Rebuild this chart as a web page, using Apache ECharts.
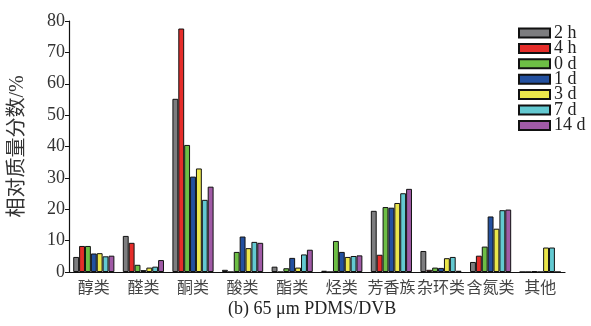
<!DOCTYPE html>
<html><head><meta charset="utf-8">
<script src="https://cdn.jsdelivr.net/npm/echarts@6/dist/echarts.min.js"></script>
<style>html,body{margin:0;padding:0;background:#fff}#c{width:591px;height:326px}</style>
</head><body><div id="c"></div>
<script>
const categories = ['醇类','醛类','酮类','酸类','酯类','烃类','芳香族','杂环类','含氮类','其他'];
const seriesNames = ['2 h','4 h','0 d','1 d','3 d','7 d','14 d'];
const s2h  = [4.8, 11.5, 55.2, 0.7, 1.7, 0.4, 19.5, 6.7, 3.2, 0];
const s4h  = [8.3, 9.3, 77.6, 0, 0, 0, 5.5, 0.7, 5.2, 0];
const s0d  = [8.3, 2.3, 40.5, 6.4, 1.2, 9.9, 20.7, 1.4, 8.1, 0.3];
const s1d  = [5.9, 0.6, 30.4, 11.3, 4.5, 6.4, 20.5, 1.3, 17.7, 0];
const s3d  = [6.0, 1.4, 33.0, 7.6, 1.4, 4.8, 22.0, 4.4, 13.8, 7.8];
const s7d  = [5.0, 1.7, 23.0, 9.6, 5.6, 5.1, 25.1, 4.8, 19.7, 7.8];
const s14d = [5.2, 3.8, 27.2, 9.3, 7.1, 5.3, 26.5, 0.4, 19.9, 0];
const yTicks = [0,10,20,30,40,50,60,70,80];
const values = [s2h, s4h, s0d, s1d, s3d, s7d, s14d];
const colors = ['#7d7d7f','#e52d2a','#6dbe45','#23509f','#ebe64b','#63c9d1','#a05aa6'];

const serif = '"Liberation Serif","Noto Sans CJK SC",serif';
const chart = echarts.init(document.getElementById('c'), null, {renderer:'canvas'});
chart.setOption({
  animation: false,
  backgroundColor: '#fff',
  grid: {left: 68, right: 26, top: 21, bottom: 54, containLabel: false},
  legend: {
    orient: 'vertical', left: 518, top: 24, padding: 0,
    icon: 'rect',
    itemWidth: 31, itemHeight: 9, itemGap: -2.6,
    data: seriesNames,
    textStyle: {fontFamily: serif, fontSize: 18, color: '#222', padding: [0,0,0,-1]}
  },
  xAxis: {
    type: 'category', data: categories,
    axisLine: {lineStyle: {color: '#111', width: 1.2}},
    axisTick: {show: false},
    axisLabel: {fontFamily: serif, fontSize: 16, color: '#444', margin: 9, interval: 0}
  },
  yAxis: {
    type: 'value', min: yTicks[0], max: yTicks[yTicks.length-1], interval: 10,
    name: '相对质量分数/%', nameLocation: 'middle', nameGap: 41,
    nameTextStyle: {fontFamily: serif, fontSize: 20, color: '#333'},
    axisLine: {show: true, lineStyle: {color: '#111', width: 1.2}},
    axisTick: {show: true, length: 4, lineStyle: {color: '#111'}},
    splitLine: {show: false},
    axisLabel: {fontFamily: serif, fontSize: 18, color: '#333', margin: 4}
  },
  graphic: [{
    type: 'text', left: 228, top: 300,
    style: {text: '(b) 65 μm PDMS/DVB', font: '18px "Liberation Serif", serif', fill: '#222'}
  }],
  series: seriesNames.map((n, i) => ({
    name: n, type: 'bar', data: values[i],
    barGap: 0, barCategoryGap: '17%',
    itemStyle: {color: colors[i], borderColor: '#111', borderWidth: 1}
  }))
});
</script></body></html>
